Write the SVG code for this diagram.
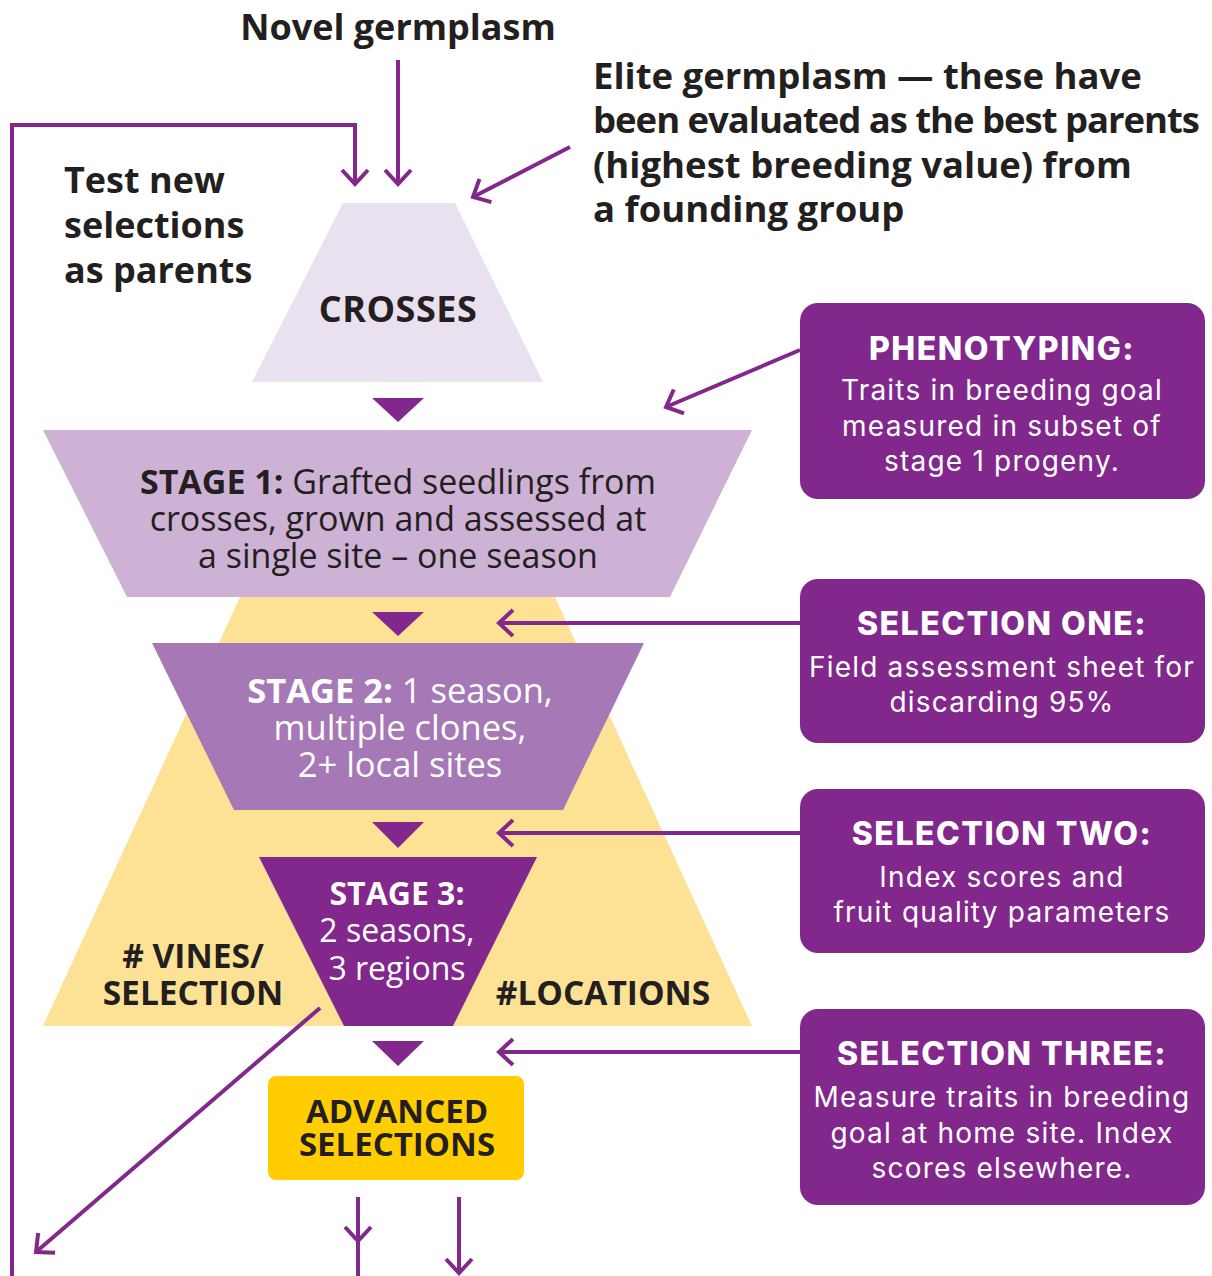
<svg xmlns="http://www.w3.org/2000/svg" width="1212" height="1276" viewBox="0 0 1212 1276">
<defs>
<style>
.t{font-family:"Open Sans","Liberation Sans",sans-serif;fill:#231F20}
.b{font-weight:700}
.w{fill:#FFFFFF}
.bx{font-family:Inter,"Noto Sans","Liberation Sans",sans-serif;fill:#FFFFFF}
.bt{font-weight:800;font-size:32px;letter-spacing:1.5px}
.bb{font-size:28px;letter-spacing:1.2px}
.ln{stroke:#82288C;stroke-width:4;fill:none}
.box{fill:#82288C}
.mk{fill:#82288C}
</style>
<marker id="chev" markerUnits="userSpaceOnUse" markerWidth="40" markerHeight="40" viewBox="-20 -20 40 40" refX="0" refY="0" orient="auto" overflow="visible">
<path d="M-14,-13 L0,0 L-14,13" fill="none" stroke="#82288C" stroke-width="4"/>
</marker>
</defs>

<g id="pyramid">
<polygon points="240,597 555,597 752,1026 43,1026" fill="#FDE296"/>
</g>

<g id="crosses">
<polygon points="343,203 455,203 543,382 252,382" fill="#E9E1EF"/>
<text class="t b" x="398" y="322" font-size="36" letter-spacing="0.5" text-anchor="middle">CROSSES</text>
</g>

<g id="stage1">
<polygon points="43,430 752,430 670,597 127,597" fill="#CDB2D6"/>
<text class="t" x="398" y="494" font-size="34" text-anchor="middle"><tspan class="b">STAGE 1:</tspan> Grafted seedlings from</text>
<text class="t" x="398" y="531" font-size="34" text-anchor="middle">crosses, grown and assessed at</text>
<text class="t" x="398" y="568" font-size="34" text-anchor="middle">a single site – one season</text>
</g>

<g id="stage2">
<polygon points="152,643 644,643 563,810 234,810" fill="#A678B5"/>
<text class="t w" x="400" y="703" font-size="34.5" text-anchor="middle"><tspan class="b">STAGE 2:</tspan> 1 season,</text>
<text class="t w" x="400" y="740" font-size="34.5" text-anchor="middle">multiple clones,</text>
<text class="t w" x="400" y="777" font-size="34.5" text-anchor="middle">2+ local sites</text>
</g>

<g id="stage3">
<polygon points="259,857 537,857 453,1026 344,1026" fill="#82288C"/>
<text class="t w b" x="397" y="905" font-size="32" text-anchor="middle">STAGE 3:</text>
<text class="t w" x="397" y="942" font-size="32" text-anchor="middle">2 seasons,</text>
<text class="t w" x="397" y="980" font-size="32" text-anchor="middle">3 regions</text>
</g>

<g id="vines">
<text class="t b" x="193" y="968" font-size="33.5" text-anchor="middle"># VINES/</text>
<text class="t b" x="193" y="1005" font-size="33.5" text-anchor="middle">SELECTION</text>
</g>
<g id="locations">
<text class="t b" x="603" y="1005" font-size="33.5" text-anchor="middle">#LOCATIONS</text>
</g>

<g id="advanced">
<rect x="268" y="1076" width="256" height="104" rx="8" fill="#FFCD00"/>
<text class="t b" x="397" y="1123" font-size="33" text-anchor="middle">ADVANCED</text>
<text class="t b" x="397" y="1156" font-size="33" text-anchor="middle">SELECTIONS</text>
</g>

<g id="novel">
<text class="t b" x="398" y="40" font-size="36" text-anchor="middle">Novel germplasm</text>
</g>
<g id="elite">
<text class="t b" x="593" y="89" font-size="36.5">Elite germplasm — these have</text>
<text class="t b" x="593" y="133" font-size="36.5" textLength="607" lengthAdjust="spacing">been evaluated as the best parents</text>
<text class="t b" x="593" y="178" font-size="36.5">(highest breeding value) from</text>
<text class="t b" x="593" y="222" font-size="36.5">a founding group</text>
</g>
<g id="testnew">
<text class="t b" x="64" y="193" font-size="36">Test new</text>
<text class="t b" x="64" y="238" font-size="36">selections</text>
<text class="t b" x="64" y="283" font-size="36">as parents</text>
</g>

<g id="phenotyping">
<rect class="box" x="800" y="303" width="405" height="196" rx="18"/>
<text class="bx bt" x="1002" y="360" text-anchor="middle">PHENOTYPING:</text>
<text class="bx bb" x="1002" y="400" text-anchor="middle">Traits in breeding goal</text>
<text class="bx bb" x="1002" y="436" text-anchor="middle">measured in subset of</text>
<text class="bx bb" x="1002" y="471" text-anchor="middle">stage 1 progeny.</text>
</g>
<g id="selection1">
<rect class="box" x="800" y="579" width="405" height="164" rx="18"/>
<text class="bx bt" x="1002" y="635" text-anchor="middle">SELECTION ONE:</text>
<text class="bx bb" x="1002" y="677" text-anchor="middle">Field assessment sheet for</text>
<text class="bx bb" x="1002" y="712" text-anchor="middle">discarding 95%</text>
</g>
<g id="selection2">
<rect class="box" x="800" y="789" width="405" height="164" rx="18"/>
<text class="bx bt" x="1002" y="845" text-anchor="middle">SELECTION TWO:</text>
<text class="bx bb" x="1002" y="887" text-anchor="middle">Index scores and</text>
<text class="bx bb" x="1002" y="922" text-anchor="middle">fruit quality parameters</text>
</g>
<g id="selection3">
<rect class="box" x="800" y="1009" width="405" height="196" rx="18"/>
<text class="bx bt" x="1002" y="1065" text-anchor="middle">SELECTION THREE:</text>
<text class="bx bb" x="1002" y="1107" text-anchor="middle">Measure traits in breeding</text>
<text class="bx bb" x="1002" y="1143" text-anchor="middle">goal at home site. Index</text>
<text class="bx bb" x="1002" y="1178" text-anchor="middle">scores elsewhere.</text>
</g>

<g id="connectors">
<polygon class="mk" points="372,398 424,398 398,422"/>
<polygon class="mk" points="372,612 424,612 398,636"/>
<polygon class="mk" points="372,822 424,822 398,848"/>
<polygon class="mk" points="372,1041 424,1041 398,1066"/>
<path class="ln" d="M398,60 L398,184" marker-end="url(#chev)"/>
<path class="ln" d="M12,1276 L12,125 L355,125 L355,184" marker-end="url(#chev)"/>
<path class="ln" d="M570,147 L473,197" marker-end="url(#chev)"/>
<path class="ln" d="M800,350 L666,407" marker-end="url(#chev)"/>
<path class="ln" d="M800,623 L499,623" marker-end="url(#chev)"/>
<path class="ln" d="M800,833 L499,833" marker-end="url(#chev)"/>
<path class="ln" d="M800,1052 L499,1052" marker-end="url(#chev)"/>
<path class="ln" d="M320,1008 L36,1252" marker-end="url(#chev)"/>
<path class="ln" d="M358,1197 L358,1241" marker-end="url(#chev)"/>
<path class="ln" d="M358,1241 L358,1276"/>
<path class="ln" d="M459,1197 L459,1273" marker-end="url(#chev)"/>
</g>
</svg>
